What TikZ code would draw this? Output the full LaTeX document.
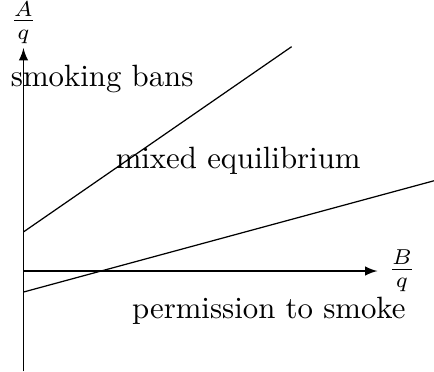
\documentclass[tikz,border=0pt]{standalone}
\usepackage{tikz}
\usetikzlibrary{arrows}
\usetikzlibrary{math}

\begin{document}
\begin{tikzpicture}
\tikzmath{
\L=4.04;
\H=2.545;
}
\useasboundingbox (-0.268,-1.145) rectangle (4.685,3.093);

\coordinate (O) at (0,0);
\coordinate (X) at (\L,0);
\coordinate (Y) at (0,\H);
\coordinate (Yb) at (0,-1.145);

\draw[-latex] (Yb) -- (Y) node[above,inner sep=1.3pt] (ylab) {$\frac{A}{q}$};
\draw[-latex] (O) -- (X) node[right] (xlab) {$\frac{B}{q}$};

% the two boundaries
\coordinate (P1) at (0,0.446);
\coordinate (P2) at (3.06,2.56);
\coordinate (Q1) at (0,-0.24);
\coordinate (Q2) at (4.685,1.03);

\draw (P1) -- (P2);
\draw (Q1) -- (Q2);

\node[right] (bans) at (-0.268,2.19) {smoking bans};
\node (mixed) at (2.45,1.26) {mixed equilibrium};
\node (smoke) at (2.80,-0.45) {permission to smoke};

\end{tikzpicture}
\end{document}
